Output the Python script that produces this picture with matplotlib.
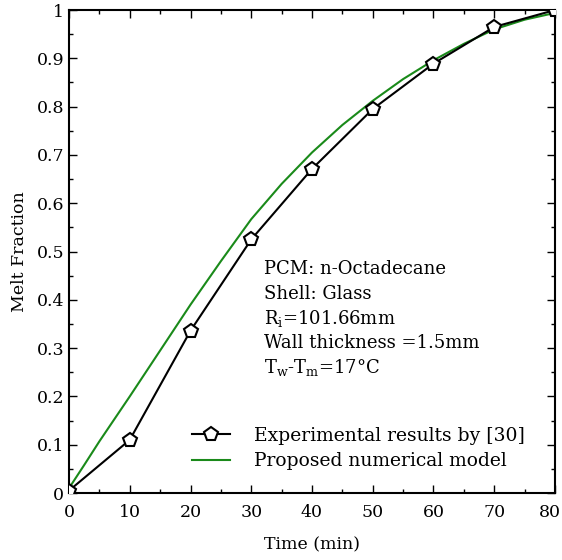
import matplotlib
matplotlib.use("Agg")
import matplotlib.pyplot as plt
import matplotlib.transforms as mtransforms
from matplotlib.ticker import MultipleLocator, FormatStrFormatter

plt.rcParams['font.family'] = ['DejaVu Serif']
plt.rcParams['mathtext.fontset'] = 'custom'
plt.rcParams['mathtext.rm'] = 'DejaVu Serif'
plt.rcParams['mathtext.it'] = 'DejaVu Serif:italic'

# Experimental data (melt fraction vs time)
exp_time = [0, 10, 20, 30, 40, 50, 60, 70, 80]
exp_melt = [0.005, 0.11, 0.336, 0.525, 0.671, 0.795, 0.889, 0.965, 1.0]

# Numerical model curve
num_time = [0, 2.5, 5, 10, 15, 20, 25, 30, 35, 40, 45, 50, 55, 60, 65, 70, 75, 80]
num_melt = [0.01, 0.058, 0.107, 0.2, 0.295, 0.39, 0.48, 0.567, 0.64, 0.705,
            0.762, 0.812, 0.857, 0.896, 0.93, 0.96, 0.98, 0.994]

fig = plt.figure(figsize=(5.62, 5.60), dpi=100)
ax = fig.add_axes([0.1228, 0.1196, 0.8647, 0.8625])

ax.plot(exp_time, exp_melt, color='black', lw=1.5, marker='p', markersize=10,
        markerfacecolor='white', markeredgecolor='black', markeredgewidth=1.5,
        label='Experimental results by [30]', zorder=3)
ax.plot(num_time, num_melt, color='#1a8a1a', lw=1.5, label='Proposed numerical model', zorder=2)

ax.set_xlim(0, 80)
ax.set_ylim(0, 1)
ax.xaxis.set_major_locator(MultipleLocator(10))
ax.xaxis.set_minor_locator(MultipleLocator(5))
ax.yaxis.set_major_locator(MultipleLocator(0.1))
ax.yaxis.set_minor_locator(MultipleLocator(0.05))
ax.yaxis.set_major_formatter(FormatStrFormatter('%g'))
ax.tick_params(which='both', direction='in', top=True, right=True, labelsize=12.5)
ax.tick_params(axis='x', which='major', pad=8)
ax.tick_params(which='major', length=6, width=1)
ax.tick_params(which='minor', length=3, width=1)
for s in ax.spines.values():
    s.set_linewidth(1.5)

ax.set_xlabel('Time (min)', fontsize=12.5, labelpad=11)
ax.set_ylabel('Melt Fraction', fontsize=12.5, labelpad=6)

info = ['PCM: n-Octadecane', 'Shell: Glass', r'R$_{\mathrm{i}}$=101.66mm',
        'Wall thickness =1.5mm', r'T$_{\mathrm{w}}$-T$_{\mathrm{m}}$=17$\degree$C']
for i, line in enumerate(info):
    ax.text(0.402, 0.463 - i * 0.0507, line, transform=ax.transAxes, fontsize=13, va='center')

ax.legend(loc='lower right', bbox_to_anchor=(0.965, 0.02), frameon=False, fontsize=13.5,
          handlelength=2.0, handletextpad=1.3, labelspacing=0.4, borderpad=0.2)

# keep the last x tick label inside the canvas
fig.canvas.draw()
for lbl in ax.get_xticklabels():
    if lbl.get_text() == '80':
        lbl.set_transform(lbl.get_transform() +
                          mtransforms.ScaledTranslation(-5 / 100, 0, fig.dpi_scale_trans))

fig.savefig('out.png', dpi=100)
